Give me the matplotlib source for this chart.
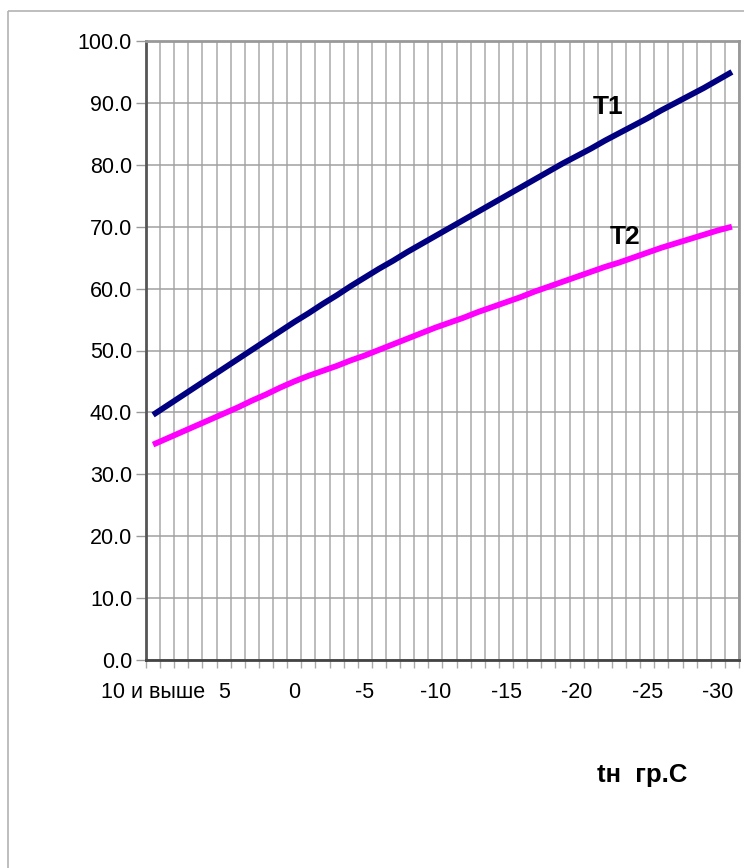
import numpy as np
import matplotlib.pyplot as plt
from matplotlib.patches import Rectangle
from matplotlib.ticker import FixedLocator

plt.rcParams['font.family'] = ['Liberation Sans', 'DejaVu Sans']

# outdoor temperature, +10 down to -31
t_out = list(range(10, -32, -1))
# supply (T1) and return (T2) water temperature
t1 = [39.6, 41.1, 42.6, 44.1, 45.6, 47.1, 48.6, 50.1, 51.6, 53.1,
      54.6, 56.0, 57.5, 58.9, 60.4, 61.8, 63.2, 64.5, 65.9, 67.2,
      68.5, 69.8, 71.1, 72.4, 73.7, 75.0, 76.3, 77.6, 78.9, 80.2,
      81.4, 82.6, 83.9, 85.1, 86.3, 87.5, 88.8, 90.0, 91.2, 92.4,
      93.7, 95.0]
t2 = [34.8, 35.8, 36.8, 37.8, 38.8, 39.8, 40.8, 41.9, 42.9, 44.0,
      45.0, 45.9, 46.7, 47.5, 48.4, 49.2, 50.1, 51.0, 51.9, 52.8,
      53.7, 54.5, 55.3, 56.2, 57.0, 57.8, 58.6, 59.5, 60.3, 61.1,
      61.9, 62.7, 63.5, 64.2, 65.0, 65.8, 66.6, 67.3, 68.0, 68.7,
      69.4, 70.0]
x_labels = ['10 и выше', '5', '0', '-5', '-10', '-15', '-20', '-25', '-30']

fig = plt.figure(figsize=(7.44, 8.68), dpi=100)
W, H = 744, 868

# light frame round the whole chart
fig.patches.append(Rectangle((8 / W, 1 - 11 / H), 2, -2, transform=fig.transFigure,
                             fill=False, edgecolor='#b3b3b3', linewidth=1.2))

ax = fig.add_axes([146 / W, (H - 660) / H, (739 - 146) / W, (660 - 41) / H])

x = np.arange(len(t_out))
ax.plot(x, t1, color='#000080', linewidth=4.2, solid_capstyle='butt', zorder=3)
ax.plot(x, t2, color='#ff00ff', linewidth=4.2, solid_capstyle='butt', zorder=3)

ax.set_xlim(-0.5, len(t_out) - 0.5)
ax.set_ylim(0, 100)

# category boundaries carry the tick marks and vertical grid
ax.xaxis.set_minor_locator(FixedLocator(np.arange(len(t_out) + 1) - 0.5))
ax.set_xticks(np.arange(0, 41, 5))
ax.set_xticklabels(x_labels)
ax.tick_params(axis='x', which='major', length=0, pad=16, labelsize=15.5)
ax.tick_params(axis='x', which='minor', length=6, width=1, color='#aaaaaa', direction='out')
ax.grid(True, axis='x', which='minor', color='#aaaaaa', linewidth=1.1)

ax.set_yticks(np.arange(0, 101, 10))
ax.set_yticklabels([f'{v:.1f}' for v in range(0, 101, 10)])
ax.tick_params(axis='y', length=7, width=1, color='#999999', pad=3, labelsize=15.5)
ax.grid(True, axis='y', which='major', color='#a0a0a0', linewidth=1.1)
ax.set_axisbelow(True)

for side in ['top', 'right']:
    ax.spines[side].set_color('#999999')
    ax.spines[side].set_linewidth(2)
ax.spines['left'].set_color('#555555')
ax.spines['left'].set_linewidth(2)
ax.spines['bottom'].set_color('#444444')
ax.spines['bottom'].set_linewidth(2)

ax.text(32.2, 89.4, 'T1', fontsize=19, fontweight='bold', ha='center', va='center')
ax.text(33.4, 68.3, 'T2', fontsize=19, fontweight='bold', ha='center', va='center')

fig.text(642 / W, 1 - 775 / H, 'tн  гр.С', fontsize=18.5, fontweight='bold',
         ha='center', va='center')

fig.savefig('out.png', dpi=100)
